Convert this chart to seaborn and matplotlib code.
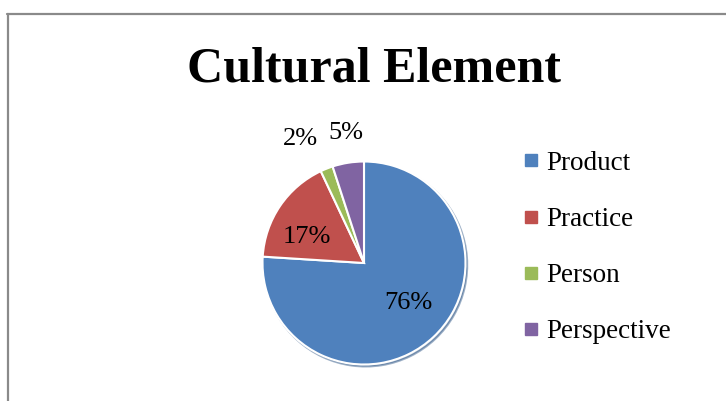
import numpy as np
import matplotlib
matplotlib.use("Agg")
import matplotlib.pyplot as plt
import seaborn as sns
from matplotlib.lines import Line2D

sns.set_theme(style="white")
plt.rcParams['font.family'] = ['Liberation Serif', 'DejaVu Serif']
plt.rcParams['text.color'] = 'black'

categories = ["Product", "Practice", "Person", "Perspective"]
values = [76, 17, 2, 5]
colors = ["#4F81BD", "#C0504D", "#9BBB59", "#8064A2"]
title = "Cultural Element"

W, H = 726, 401
fig = plt.figure(figsize=(W / 100, H / 100), dpi=100)
fig.patch.set_facecolor("white")

# frame lines (top and left)
fig.add_artist(Line2D([7 / W, 1.0], [1 - 13.5 / H, 1 - 13.5 / H], color="#8a8a8a", lw=1.6,
                      transform=fig.transFigure))
fig.add_artist(Line2D([8 / W, 8 / W], [0, 1 - 13.5 / H], color="#8a8a8a", lw=1.6,
                      transform=fig.transFigure))

cx, cy, r = 364, 263, 101.5
ax = fig.add_axes([(cx - r) / W, (H - cy - r) / H, 2 * r / W, 2 * r / H])
wedges, texts, autotexts = ax.pie(
    values, colors=colors, startangle=90, counterclock=False,
    autopct=lambda p: f"{p:.0f}%", pctdistance=0.6,
    wedgeprops=dict(edgecolor="white", linewidth=1.5),
    textprops=dict(fontsize=19, color="black"),
    shadow=dict(ox=0.012, oy=-0.014, shade=0.25),
)
ax.set_xlim(-1, 1)
ax.set_ylim(-1, 1)
ax.set_aspect("equal")
ax.axis("off")

# best-fit style label placement: inside for big slices, outside for small
place = {0: (0.59, 5), 1: (0.62, 10), 2: (1.37, 5.5), 3: (1.29, -1)}
for i, (w, t) in enumerate(zip(wedges, autotexts)):
    mid = np.deg2rad((w.theta1 + w.theta2) / 2 + place[i][1])
    d = place[i][0]
    t.set_position((d * np.cos(mid), d * np.sin(mid)))
    t.set_ha("center")
    t.set_va("center")

fig.text(374 / W, 1 - 70 / H, title, ha="center", va="center", fontsize=36,
         fontweight="bold", color="black")

handles = [Line2D([0], [0], marker="s", linestyle="none", markersize=8,
                  markerfacecolor=c, markeredgecolor=c) for c in colors]
fig.legend(handles, categories, loc="upper left", bbox_to_anchor=(512 / W, 1 - 140 / H),
           frameon=False, fontsize=19.5, handlelength=0.6, handletextpad=0.25,
           labelspacing=1.15, borderaxespad=0, labelcolor="black")

fig.savefig("out.png", dpi=100, facecolor="white")
